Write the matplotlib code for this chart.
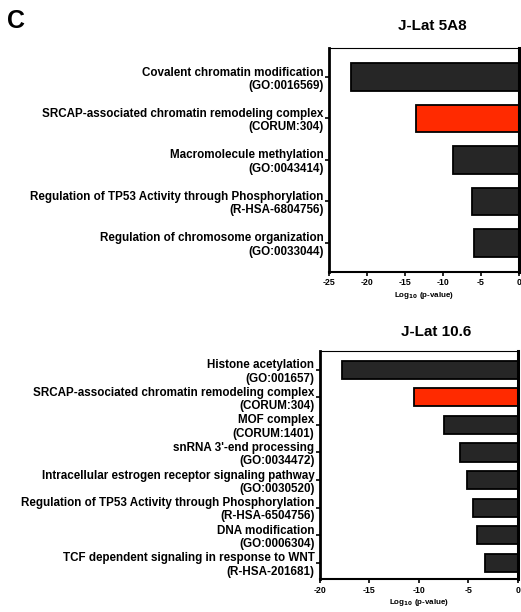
import matplotlib
matplotlib.use("Agg")
import matplotlib.pyplot as plt

plt.rcParams['font.family'] = ['Liberation Sans', 'DejaVu Sans']
plt.rcParams['font.weight'] = 'bold'

labels_5a8 = [
    "Covalent chromatin modification\n(GO:0016569)",
    "SRCAP-associated chromatin remodeling complex\n(CORUM:304)",
    "Macromolecule methylation\n(GO:0043414)",
    "Regulation of TP53 Activity through Phosphorylation\n(R-HSA-6804756)",
    "Regulation of chromosome organization\n(GO:0033044)",
]
values_5a8 = [-22.1, -13.5, -8.7, -6.2, -5.9]
colors_5a8 = ["#262626", "#ff2a00", "#262626", "#262626", "#262626"]

labels_106 = [
    "Histone acetylation\n(GO:001657)",
    "SRCAP-associated chromatin remodeling complex\n(CORUM:304)",
    "MOF complex\n(CORUM:1401)",
    "snRNA 3'-end processing\n(GO:0034472)",
    "Intracellular estrogen receptor signaling pathway\n(GO:0030520)",
    "Regulation of TP53 Activity through Phosphorylation\n(R-HSA-6504756)",
    "DNA modification\n(GO:0006304)",
    "TCF dependent signaling in response to WNT\n(R-HSA-201681)",
]
values_106 = [-17.8, -10.5, -7.5, -5.9, -5.1, -4.5, -4.1, -3.3]
colors_106 = ["#262626", "#ff2a00"] + ["#262626"] * 6

xticks_5a8 = [-25, -20, -15, -10, -5, 0]
xticks_106 = [-20, -15, -10, -5, 0]

fig = plt.figure(figsize=(5.21, 6.12), dpi=100)

def panel(rect, labels, values, colors, xticks, title, title_x, title_y, ylim):
    ax = fig.add_axes(rect)
    y = list(range(len(values)))
    ax.barh(y, values, height=0.66, color=colors, edgecolor="black", linewidth=1.3)
    ax.set_xlim(xticks[0], 0)
    ax.set_ylim(*ylim)
    ax.set_yticks(y)
    ax.set_yticklabels(labels, fontsize=8.4, fontweight='bold', linespacing=1.15)
    ax.set_xticks(xticks)
    ax.set_xticklabels([str(t) for t in xticks], fontsize=6.3, fontweight='bold')
    ax.set_xlabel(r"Log$_{\mathbf{10}}$ (p-value)", fontsize=5.8, fontweight='bold', labelpad=2)
    ax.spines['left'].set_linewidth(2.0)
    ax.spines['bottom'].set_linewidth(1.5)
    ax.spines['right'].set_linewidth(2.2)
    ax.spines['top'].set_linewidth(0.8)
    ax.tick_params(axis='y', length=3, width=1.2, pad=1)
    ax.tick_params(axis='x', length=3, width=1.2, pad=1.5)
    fig.text(title_x, title_y, title, fontsize=11, fontweight='bold', ha='center', va='center')
    return ax

panel([0.6315, 0.5556, 0.3647, 0.366], labels_5a8, values_5a8, colors_5a8,
      xticks_5a8, "J-Lat 5A8", 432 / 521, 1 - 26 / 612, (4.7, -0.7))
panel([0.6142, 0.0534, 0.380, 0.3735], labels_106, values_106, colors_106,
      xticks_106, "J-Lat 10.6", 436 / 521, 1 - 332 / 612, (7.6, -0.69))

fig.text(7 / 521, 1 - 21 / 612, "C", fontsize=18, fontweight='bold', ha='left', va='center')

fig.savefig("out.png", dpi=100)
